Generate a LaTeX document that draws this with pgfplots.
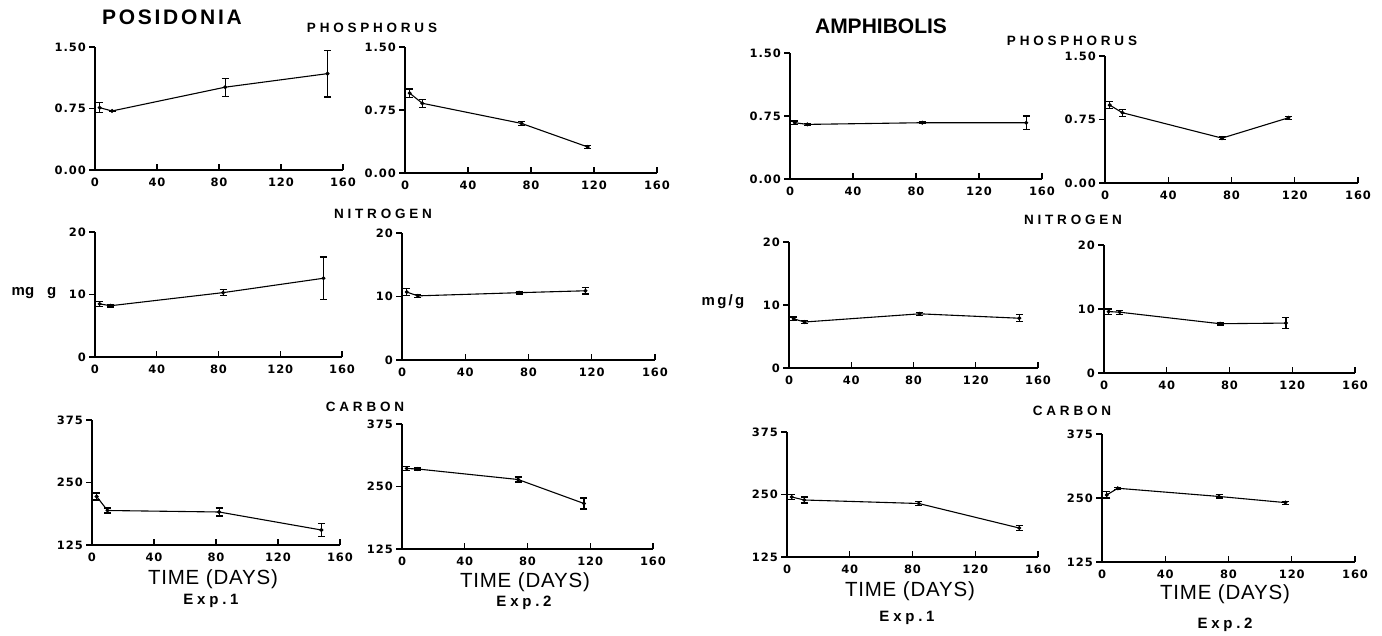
\documentclass[border=0pt]{standalone}
\usepackage{fontspec}
\setmainfont{Liberation Sans}
\newfontfamily\tickfam[LetterSpace=8]{DejaVu Sans}
\usepackage{pgfplots}
\pgfplotsset{compat=1.18}
\newcommand{\myticklbl}{\tickfam\bfseries\fontsize{11.5}{13}\selectfont}
\newcommand{\myttl}{\bfseries\fontsize{13.5}{15}\selectfont\addfontfeature{LetterSpace=28}}
\newcommand{\mybigttl}{\bfseries\fontsize{21}{24}\selectfont}
\newcommand{\mytime}{\fontsize{20.5}{23}\selectfont\addfontfeature{LetterSpace=4}}
\newcommand{\myexp}{\bfseries\fontsize{15}{17}\selectfont\addfontfeature{LetterSpace=25}}
\pgfplotsset{
  panel/.style={
    scale only axis, anchor=south west, clip=false,
    axis x line=bottom, axis y line=left,
    axis line style={-, line width=1.3pt, black},
    xmin=0, xmax=160,
    xtick={0,40,80,120,160}, xticklabels={0,40,80,120,160},
    tick style={line width=1.2pt, black},
    major tick length=6pt, tick align=center,
    every x tick/.append style={yshift=3pt},
    every y tick/.append style={xshift=-3pt},
    ticklabel style={font=\myticklbl, inner sep=1pt},
    xticklabel style={yshift=-4pt},
    yticklabel style={xshift=-5pt},
  },
  pP/.style={ymin=0, ymax=1.5, ytick={0,0.75,1.5}, yticklabels={0.00,0.75,1.50}},
  pN/.style={ymin=0, ymax=20, ytick={0,10,20}, yticklabels={0,10,20}},
  pC/.style={ymin=125, ymax=375, ytick={125,250,375}, yticklabels={125,250,375}},
  dat/.style={black, line width=1.1pt, mark=*, mark size=1.4pt,
    error bars/.cd, y dir=both, y explicit,
    error bar style={line width=1.1pt},
    error mark options={rotate=90, line width=1.1pt, mark size=3.5pt}},
}
\begin{document}
\begin{tikzpicture}[every node/.append style={inner sep=1pt}]
\path[use as bounding box] (0pt,0pt) rectangle (1382pt,635pt);
% ---------- Row 1: Phosphorus ----------
\begin{axis}[panel, pP, at={(95pt,465pt)}, width=248pt, height=123pt]
\addplot[dat] table[row sep=\\, x=x, y=y, y error=e]{x y e\\ 3 0.76 0.06\\ 11 0.72 0.01\\ 84 1.01 0.11\\ 150 1.175 0.285\\};
\end{axis}
\begin{axis}[panel, pP, at={(405pt,462pt)}, width=252pt, height=126pt]
\addplot[dat] table[row sep=\\, x=x, y=y, y error=e]{x y e\\ 3 0.95 0.05\\ 11 0.83 0.05\\ 74 0.59 0.02\\ 116 0.31 0.02\\};
\end{axis}
\begin{axis}[panel, pP, at={(790pt,456pt)}, width=252pt, height=126pt]
\addplot[dat] table[row sep=\\, x=x, y=y, y error=e]{x y e\\ 3 0.67 0.02\\ 11 0.65 0.01\\ 84 0.67 0.01\\ 150 0.67 0.08\\};
\end{axis}
\begin{axis}[panel, pP, at={(1105pt,452pt)}, width=253pt, height=127pt]
\addplot[dat] table[row sep=\\, x=x, y=y, y error=e]{x y e\\ 3 0.92 0.04\\ 11 0.83 0.04\\ 74 0.53 0.02\\ 116 0.77 0.02\\};
\end{axis}
% ---------- Row 2: Nitrogen ----------
\begin{axis}[panel, pN, at={(95pt,278pt)}, width=247pt, height=125pt]
\addplot[dat] table[row sep=\\, x=x, y=y, y error=e]{x y e\\ 3 8.5 0.4\\ 10 8.2 0.2\\ 83 10.3 0.5\\ 148 12.6 3.4\\};
\end{axis}
\begin{axis}[panel, pN, at={(402pt,275pt)}, width=253pt, height=127pt]
\addplot[dat] table[row sep=\\, x=x, y=y, y error=e]{x y e\\ 3 10.7 0.6\\ 10 10.1 0.2\\ 74 10.6 0.2\\ 116 10.9 0.5\\};
\end{axis}
\begin{axis}[panel, pN, at={(789pt,267pt)}, width=249pt, height=126pt]
\addplot[dat] table[row sep=\\, x=x, y=y, y error=e]{x y e\\ 3 7.8 0.3\\ 10 7.3 0.2\\ 84 8.6 0.2\\ 148 7.9 0.55\\};
\end{axis}
\begin{axis}[panel, pN, at={(1104pt,262pt)}, width=251pt, height=128pt]
\addplot[dat] table[row sep=\\, x=x, y=y, y error=e]{x y e\\ 3 9.6 0.4\\ 10 9.5 0.3\\ 74 7.7 0.2\\ 116 7.8 0.85\\};
\end{axis}
% ---------- Row 3: Carbon ----------
\begin{axis}[panel, pC, at={(92pt,90pt)}, width=248pt, height=125pt]
\addplot[dat] table[row sep=\\, x=x, y=y, y error=e]{x y e\\ 3 222 7\\ 10 194 5\\ 82 191 8\\ 148 155 13\\};
\end{axis}
\begin{axis}[panel, pC, at={(402pt,86pt)}, width=251pt, height=125pt]
\addplot[dat] table[row sep=\\, x=x, y=y, y error=e]{x y e\\ 3 286 4\\ 10 285 2\\ 74 264 5\\ 116 216 11\\};
\end{axis}
\begin{axis}[panel, pC, at={(787pt,78pt)}, width=251pt, height=125pt]
\addplot[dat] table[row sep=\\, x=x, y=y, y error=e]{x y e\\ 3 245 5\\ 11 239 6\\ 84 232 4\\ 148 183 5\\};
\end{axis}
\begin{axis}[panel, pC, at={(1102pt,73pt)}, width=253pt, height=128pt]
\addplot[dat] table[row sep=\\, x=x, y=y, y error=e]{x y e\\ 3 256 6\\ 10 269 2\\ 74 253 3\\ 116 241 3\\};
\end{axis}
% ---------- Texts ----------
\node[font=\mybigttl\addfontfeature{LetterSpace=13}] at (172pt,618pt) {POSIDONIA};
\node[font=\mybigttl] at (881pt,609pt) {AMPHIBOLIS};
\node[font=\myttl] at (372pt,607pt) {PHOSPHORUS};
\node[font=\myttl] at (1072pt,594pt) {PHOSPHORUS};
\node[font=\myttl] at (383pt,421pt) {NITROGEN};
\node[font=\myttl] at (1073pt,415pt) {NITROGEN};
\node[font=\myttl] at (365pt,228pt) {CARBON};
\node[font=\myttl] at (1072pt,224pt) {CARBON};
\node[font=\mytime] at (213pt,56pt) {TIME (DAYS)};
\node[font=\mytime] at (525pt,53pt) {TIME (DAYS)};
\node[font=\mytime] at (910pt,44pt) {TIME (DAYS)};
\node[font=\mytime] at (1225pt,41pt) {TIME (DAYS)};
\node[font=\myexp] at (211pt,34pt) {Exp.1};
\node[font=\myexp] at (524pt,32pt) {Exp.2};
\node[font=\myexp] at (907pt,17pt) {Exp.1};
\node[font=\myexp] at (1225pt,10pt) {Exp.2};
\node[font=\bfseries\fontsize{15}{17}\selectfont] at (34pt,342pt) {mg\hspace{13pt}g};
\node[font=\bfseries\fontsize{15}{17}\selectfont\addfontfeature{LetterSpace=15}] at (723pt,333pt) {mg/g};
\end{tikzpicture}
\end{document}
